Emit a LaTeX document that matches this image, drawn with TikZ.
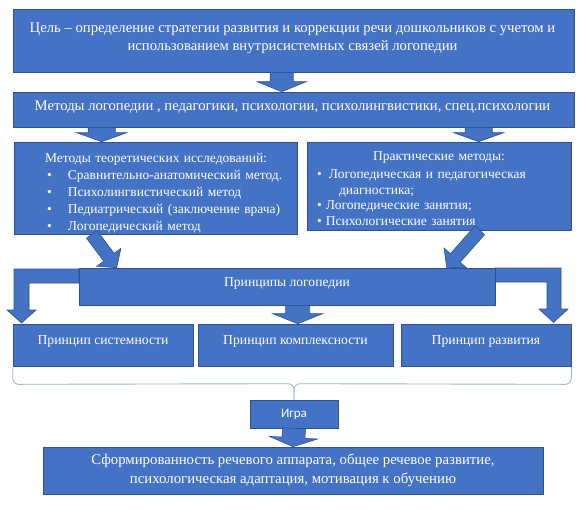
\documentclass[tikz,border=0pt]{standalone}
\usepackage{fontspec}
\setmainfont{Liberation Serif}
\newfontfamily\sansf{Carlito}
\usetikzlibrary{calc}
\definecolor{boxblue}{HTML}{4472C4}
\definecolor{edgeblue}{HTML}{2F528F}
\definecolor{bracec}{HTML}{9DB5DF}
\tikzset{
  box/.style={draw=edgeblue, fill=boxblue, line width=0.6pt, inner sep=0pt},
  txt/.style={text=white, inner sep=0pt, align=center},
  blk/.style={fill=boxblue, draw=edgeblue, line width=0.6pt, line join=miter},
  barrow/.style n args={3}{blk, to path={
    ($(\tikztostart)!#1!90:(\tikztotarget)$) --
    ($($(\tikztotarget)!#3!(\tikztostart)$)!#1!90:(\tikztotarget)$) --
    ($($(\tikztotarget)!#3!(\tikztostart)$)!#2!90:(\tikztotarget)$) --
    (\tikztotarget) --
    ($($(\tikztotarget)!#3!(\tikztostart)$)!#2!-90:(\tikztotarget)$) --
    ($($(\tikztotarget)!#3!(\tikztostart)$)!#1!-90:(\tikztotarget)$) --
    ($(\tikztostart)!#1!-90:(\tikztotarget)$) -- cycle}},
  bracel/.style={draw=bracec, line width=0.9pt, line join=round},
}
\begin{document}
\begin{tikzpicture}[x=1pt, y=-1pt]
\useasboundingbox (0,0) rectangle (585,509);
% elbow arrows (behind principles box)
\draw[blk] (79,269) -- (14,269) -- (14,310) -- (7,310) -- (21.5,323) -- (36,310) -- (29,310) -- (29,283) -- (79,283) -- cycle;
\draw[blk] (495,268) -- (561,268) -- (561,309) -- (568,309) -- (553.5,322.5) -- (539,309) -- (547,309) -- (547,282) -- (495,282) -- cycle;
% boxes
\node[box, minimum width=561, minimum height=63] (goal) at (293.5,40.5) {};
\node[box, minimum width=561, minimum height=35] (methods) at (293.5,109.5) {};
\node[box, minimum width=283, minimum height=92] (theory) at (155.5,188) {};
\node[box, minimum width=264, minimum height=88] (practice) at (439,186) {};
\node[box, minimum width=416, minimum height=37] (principles) at (287,286.5) {};
\node[box, minimum width=180, minimum height=42] (p1) at (103,345) {};
\node[box, minimum width=195, minimum height=42] (p2) at (295.5,345) {};
\node[box, minimum width=170, minimum height=42] (p3) at (486,345) {};
\node[box, minimum width=88, minimum height=28] (igra) at (294,414) {};
\node[box, minimum width=500, minimum height=47] (result) at (293,470.5) {};
% texts
\node[txt, font=\fontsize{14.7}{18}\selectfont] (goalt) at (292.5,38) {Цель – определение стратегии развития и коррекции речи дошкольников с учетом и\\использованием внутрисистемных связей логопедии};
\node[txt, font=\fontsize{14.7}{18}\selectfont] (methodst) at (292.5,107) {Методы логопедии , педагогики, психологии, психолингвистики, спец.психологии};
\node[txt, align=left, text width=283pt, font=\fontsize{13.5}{17}\selectfont] (theoryt) at (155.5,193) {\hspace*{31pt}Методы теоретических исследований:\\
\hspace*{33pt}\makebox[21pt][l]{•}Сравнительно-анатомический метод.\\
\hspace*{33pt}\makebox[21pt][l]{•}Психолингвистический метод\\
\hspace*{33pt}\makebox[21pt][l]{•}Педиатрический (заключение врача)\\
\hspace*{33pt}\makebox[21pt][l]{•}Логопедический метод};
\node[txt, align=left, text width=264pt, font=\fontsize{13.5}{15.5}\selectfont] (practicet) at (439,188.5) {\makebox[264pt][c]{Практические методы:}\\[2.5pt]
\hspace*{10pt}\makebox[12pt][l]{•}Логопедическая и педагогическая\\
\hspace*{32pt}диагностика;\\
\hspace*{10pt}\makebox[9pt][l]{•}Логопедические занятия;\\
\hspace*{10pt}\makebox[9pt][l]{•}Психологические занятия};
\node[txt, font=\fontsize{13.6}{16}\selectfont] (principlest) at (287,283) {Принципы логопедии};
\node[txt, font=\fontsize{13.7}{16}\selectfont] (p1t) at (103,341.5) {Принцип системности};
\node[txt, font=\fontsize{13.7}{16}\selectfont] (p2t) at (295.5,341.5) {Принцип комплексности};
\node[txt, font=\fontsize{13.7}{16}\selectfont] (p3t) at (486,341.5) {Принцип развития};
\node[txt, font=\sansf\fontsize{13}{15}\selectfont] (igrat) at (igra.center) {Игра};
\node[txt, font=\fontsize{14.8}{19}\selectfont] (resultt) at (result.center) {Сформированность речевого аппарата, общее речевое развитие,\\психологическая адаптация, мотивация к обучению};
% block arrows
\draw[barrow={11.5pt}{24.5pt}{10pt}] ($(goal.south west)+(269,0)$) to ($(methods.north west)+(269,0)$);
\draw[barrow={13.5pt}{25pt}{9pt}] ($(methods.south west)+(89,0)$) to ($(theory.north west)+(88,0)$);
\draw[barrow={13.5pt}{25pt}{9pt}] ($(methods.south west)+(466,0)$) to ($(practice.north west)+(172,0)$);
\draw[barrow={6.5pt}{15pt}{13pt}] ($(theory.south west)+(78,0)$) to ($(principles.north west)+(38,0)$);
\draw[barrow={6.5pt}{15pt}{13pt}] ($(practice.south west)+(173,0)$) to ($(principles.north west)+(368,0)$);
\draw[barrow={12pt}{25pt}{10pt}] ($(principles.south west)+(219,0)$) to ($(p2.north west)+(100,0)$);
\draw[barrow={11.5pt}{24pt}{9pt}] (igra.south) to (result.north);
% brace
\draw[bracel] ($(p1.south west)+(0,0.5)$) -- ($(p1.south west)+(0,12)$) arc[start angle=180, end angle=90, radius=6] -- ($(igra.north)+(-6,-16)$) arc[start angle=-90, end angle=0, radius=6] -- (igra.north);
\draw[bracel] ($(p3.south east)+(0,0.5)$) -- ($(p3.south east)+(0,12)$) arc[start angle=0, end angle=90, radius=6] -- ($(igra.north)+(6,-16)$) arc[start angle=270, end angle=180, radius=6] -- (igra.north);
\end{tikzpicture}
\end{document}
